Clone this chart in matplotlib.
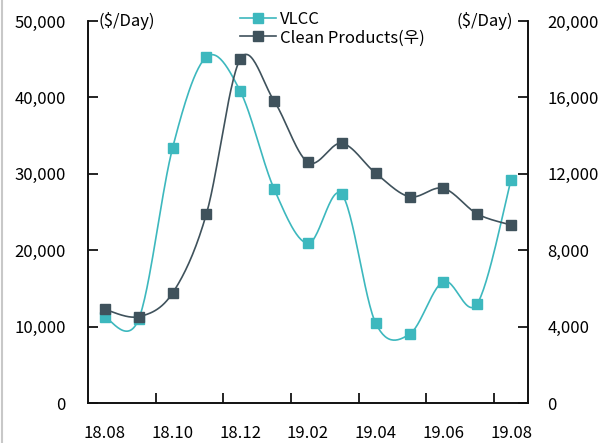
import numpy as np
import matplotlib
matplotlib.use("Agg")
import matplotlib.pyplot as plt
from matplotlib.lines import Line2D

plt.rcParams['font.family'] = ['Noto Sans CJK KR', 'DejaVu Sans']

months = ["18.08", "18.09", "18.10", "18.11", "18.12", "19.01", "19.02",
          "19.03", "19.04", "19.05", "19.06", "19.07", "19.08"]
vlcc = [11200, 11000, 33400, 45300, 40800, 28000, 20900,
        27300, 10450, 9000, 15900, 13000, 29250]
clean = [4900, 4520, 5760, 9910, 18010, 15810, 12600,
         13600, 12030, 10800, 11240, 9900, 9320]

VLCC_COLOR = "#3db8be"
CLEAN_COLOR = "#3f525c"


def smooth(x, y, n=30):
    """Cubic Bezier smoothing through every point (Catmull-Rom style)."""
    x = np.asarray(x, float)
    y = np.asarray(y, float)
    px = np.concatenate([[x[0]], x, [x[-1]]])
    py = np.concatenate([[y[0]], y, [y[-1]]])
    xs, ys = [], []
    t = np.linspace(0, 1, n)
    for i in range(len(x) - 1):
        p0 = np.array([px[i + 1], py[i + 1]])
        p3 = np.array([px[i + 2], py[i + 2]])
        c1 = p0 + (np.array([px[i + 2], py[i + 2]]) - np.array([px[i], py[i]])) / 6
        c2 = p3 - (np.array([px[i + 3], py[i + 3]]) - np.array([px[i + 1], py[i + 1]])) / 6
        b = ((1 - t) ** 3)[:, None] * p0 + (3 * (1 - t) ** 2 * t)[:, None] * c1 \
            + (3 * (1 - t) * t ** 2)[:, None] * c2 + (t ** 3)[:, None] * p3
        xs.append(b[:, 0])
        ys.append(b[:, 1])
    return np.concatenate(xs), np.concatenate(ys)


fig = plt.figure(figsize=(6.10, 4.43), dpi=100)
ax = fig.add_axes([88 / 610, 1 - 403 / 443, 440 / 610, 382 / 443])
ax2 = ax.twinx()

x = np.arange(len(months))

sx, sy = smooth(x, vlcc)
ax.plot(sx, sy, color=VLCC_COLOR, lw=1.2, zorder=3)
ax.plot(x, vlcc, ls="none", marker="s", ms=6.5, color=VLCC_COLOR, zorder=4)

cx, cy = smooth(x, clean)
ax2.plot(cx, cy, color=CLEAN_COLOR, lw=1.2, zorder=3)
ax2.plot(x, clean, ls="none", marker="s", ms=6.5, color=CLEAN_COLOR, zorder=4)

ax.set_xlim(-0.5, len(months) - 0.5)
ax.set_ylim(0, 50000)
ax2.set_ylim(0, 20000)
ax.set_yticks(np.arange(0, 50001, 10000))
ax2.set_yticks(np.arange(0, 20001, 4000))
ax.yaxis.set_major_formatter(matplotlib.ticker.FuncFormatter(lambda v, p: f"{int(v):,}"))
ax2.yaxis.set_major_formatter(matplotlib.ticker.FuncFormatter(lambda v, p: f"{int(v):,}"))

# category labels every other month, tick marks on category boundaries
ax.set_xticks(x[::2])
ax.set_xticklabels(months[::2])
ax.set_xticks(np.arange(1.5, len(months) - 0.5, 2), minor=True)
ax.tick_params(axis="x", which="major", length=0, pad=16, labelsize=12)
ax.tick_params(axis="x", which="minor", length=7, width=1.2, direction="in")

ax.tick_params(axis="y", direction="in", length=7, width=1.2, pad=16, labelsize=12)
ax2.tick_params(axis="y", direction="in", length=7, width=1.2, pad=14, labelsize=12)

for a in (ax, ax2):
    a.spines["top"].set_visible(False)
    for s in ("left", "right", "bottom"):
        a.spines[s].set_linewidth(1.2)
        a.spines[s].set_color("#111111")

ax.text(0.025, 1.0, "($/Day)", transform=ax.transAxes, fontsize=12, va="center", ha="left")
ax.text(0.967, 1.0, "($/Day)", transform=ax.transAxes, fontsize=12, va="center", ha="right")

handles = [
    Line2D([], [], color=VLCC_COLOR, lw=1.2, marker="s", ms=6.5),
    Line2D([], [], color=CLEAN_COLOR, lw=1.2, marker="s", ms=6.5),
]
fig.legend(handles, ["VLCC", "Clean Products(우)"], loc="upper left",
           bbox_to_anchor=(228 / 610, 1 + 1 / 443), frameon=False, fontsize=12,
           handlelength=2.2, handletextpad=0.2, labelspacing=0.1,
           borderpad=0.2)

fig.add_artist(Line2D([2 / 610, 2 / 610], [0, 1], color="#c8c8c8", lw=1.5,
                      transform=fig.transFigure))

fig.savefig("out.png", dpi=100)
